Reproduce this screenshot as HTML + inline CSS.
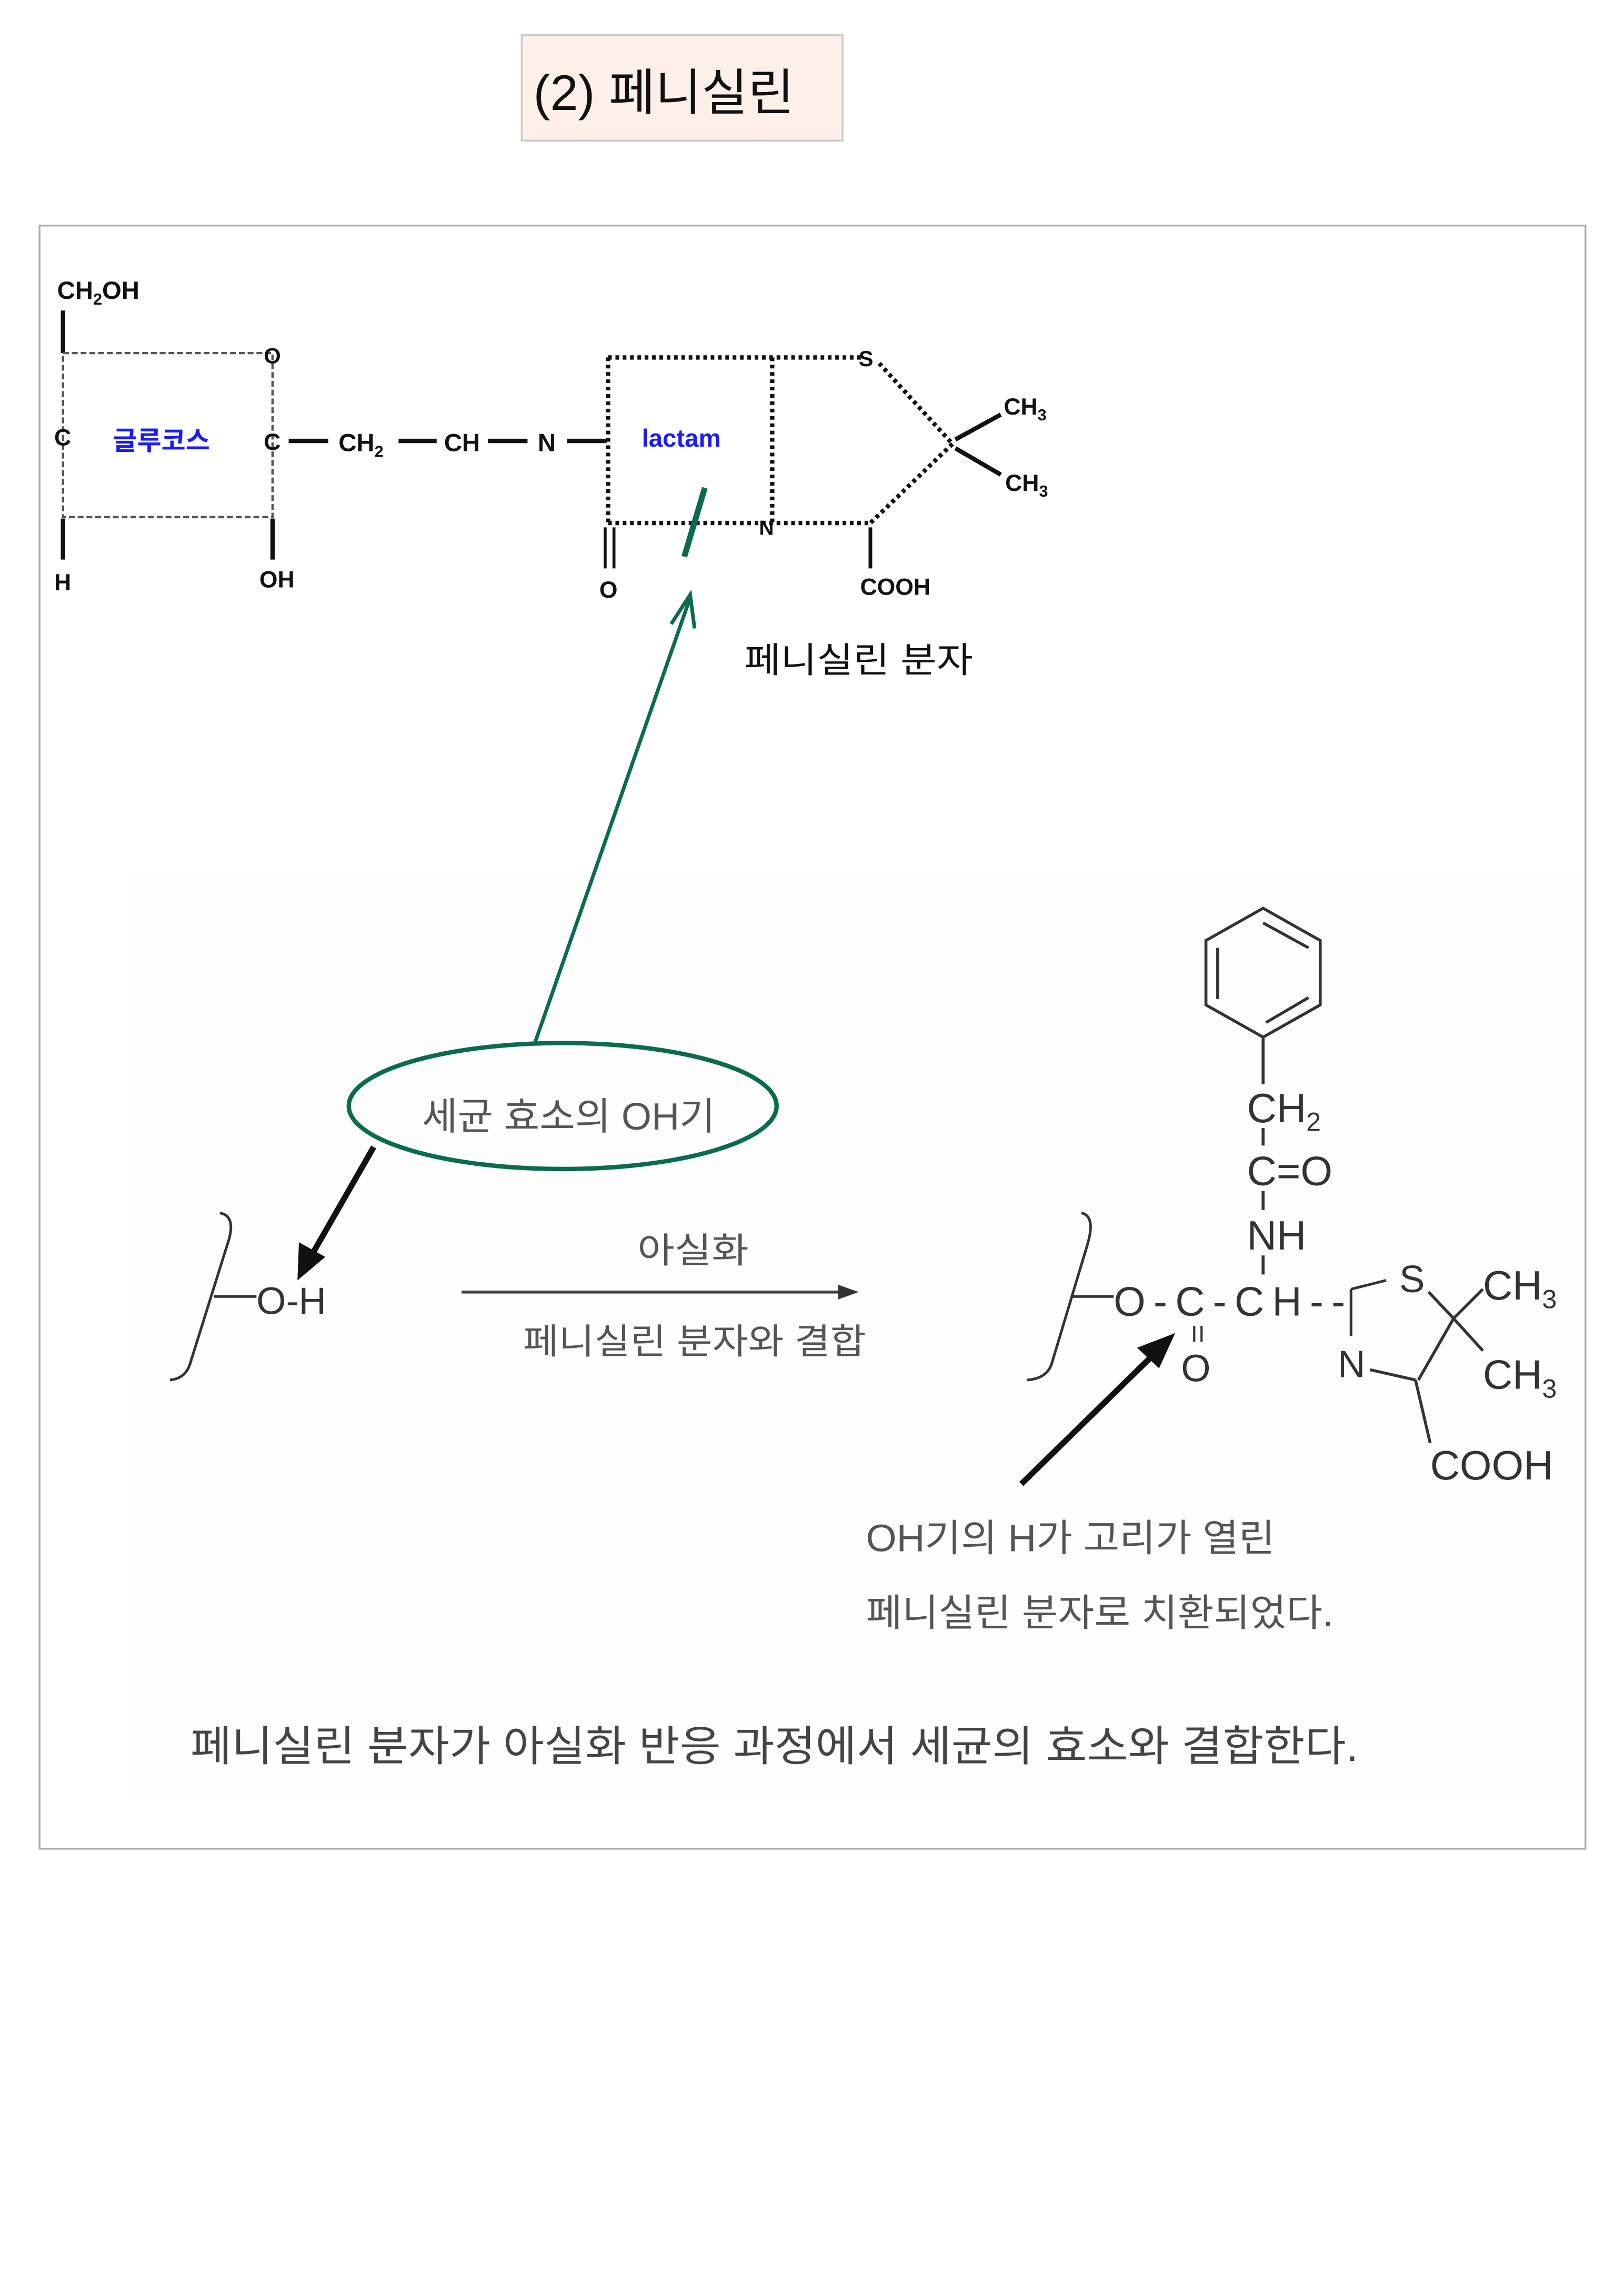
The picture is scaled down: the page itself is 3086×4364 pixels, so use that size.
<!DOCTYPE html>
<html><head><meta charset="utf-8"><style>
html,body{margin:0;padding:0;background:#fff;}
svg{display:block;}
text{font-family:"Liberation Sans","Noto Sans CJK KR",sans-serif;}
</style></head><body>
<svg width="3086" height="4364" viewBox="0 0 1108.3 1567.3" xmlns="http://www.w3.org/2000/svg">
<rect x="0" y="0" width="1110" height="1570" fill="#fff"/>
<!-- title -->
<rect x="356" y="24" width="219" height="72" fill="#fdf0e8" stroke="#c8c8c8" stroke-width="1.2"/>
<text x="364" y="75" font-size="34" fill="#111" textLength="178" lengthAdjust="spacingAndGlyphs">(2) 페니실린</text>
<!-- frame -->
<rect x="27" y="154" width="1055" height="1108" fill="#fff" stroke="#aaa" stroke-width="1.2"/>
<rect x="88" y="598" width="993" height="628" fill="#fdfdfd"/>

<!-- glucose -->
<text x="39" y="204" font-size="17" font-weight="bold" fill="#111">CH<tspan font-size="11" dy="4">2</tspan><tspan dy="-4">OH</tspan></text>
<line x1="43" y1="212" x2="43" y2="241" stroke="#111" stroke-width="3"/>
<rect x="43" y="241" width="143" height="112" fill="none" stroke="#555" stroke-width="1.6" stroke-dasharray="4,2"/>
<text x="180" y="248" font-size="15" font-weight="bold" fill="#111">O</text>
<text x="37" y="304" font-size="16" font-weight="bold" fill="#111">C</text>
<text x="180" y="307" font-size="16" font-weight="bold" fill="#111">C</text>
<text x="77" y="307" font-size="18" font-weight="bold" fill="#1a1aff">글루코스</text>
<line x1="43" y1="354" x2="43" y2="382" stroke="#111" stroke-width="3"/>
<line x1="186" y1="354" x2="186" y2="382" stroke="#111" stroke-width="3"/>
<text x="37" y="403" font-size="16" font-weight="bold" fill="#111">H</text>
<text x="177" y="401" font-size="16" font-weight="bold" fill="#111">OH</text>
<!-- chain -->
<line x1="197" y1="301" x2="224" y2="301" stroke="#111" stroke-width="3"/>
<text x="231" y="308" font-size="17" font-weight="bold" fill="#111">CH<tspan font-size="11" dy="4">2</tspan></text>
<line x1="272" y1="301" x2="298" y2="301" stroke="#111" stroke-width="3"/>
<text x="303" y="308" font-size="17" font-weight="bold" fill="#111">CH</text>
<line x1="333" y1="301" x2="360" y2="301" stroke="#111" stroke-width="3"/>
<text x="367" y="308" font-size="17" font-weight="bold" fill="#111">N</text>
<line x1="387" y1="301" x2="414" y2="301" stroke="#111" stroke-width="3"/>
<!-- lactam -->
<g stroke="#111" stroke-width="3" stroke-dasharray="2.5,2.5" fill="none">
<line x1="415" y1="244" x2="415" y2="357"/>
<line x1="415" y1="244" x2="588" y2="244"/>
<line x1="527" y1="244" x2="527" y2="357"/>
<line x1="415" y1="357" x2="594" y2="357"/>
<line x1="600" y1="248" x2="650" y2="303"/>
<line x1="650" y1="303" x2="594" y2="357"/>
</g>
<text x="586" y="250" font-size="15" font-weight="bold" fill="#111">S</text>
<text x="518" y="365" font-size="14" font-weight="bold" fill="#111">N</text>
<text x="438" y="305" font-size="17" font-weight="bold" fill="#1a1aff">lactam</text>
<line x1="413" y1="360" x2="413" y2="388" stroke="#111" stroke-width="2"/>
<line x1="419" y1="360" x2="419" y2="388" stroke="#111" stroke-width="2"/>
<text x="409" y="408" font-size="16" font-weight="bold" fill="#111">O</text>
<line x1="594" y1="360" x2="594" y2="388" stroke="#111" stroke-width="2.5"/>
<text x="587" y="406" font-size="16" font-weight="bold" fill="#111">COOH</text>
<line x1="652" y1="300" x2="683" y2="283" stroke="#111" stroke-width="3"/>
<line x1="652" y1="306" x2="683" y2="324" stroke="#111" stroke-width="3"/>
<text x="685" y="283" font-size="16" font-weight="bold" fill="#111">CH<tspan font-size="11" dy="4">3</tspan></text>
<text x="686" y="335" font-size="16" font-weight="bold" fill="#111">CH<tspan font-size="11" dy="4">3</tspan></text>
<!-- green slash and arrow -->
<line x1="481" y1="333" x2="467" y2="380" stroke="#0a6b50" stroke-width="4"/>
<text x="508" y="459" font-size="24" fill="#111" textLength="156" lengthAdjust="spacingAndGlyphs">페니실린 분자</text>
<line x1="365" y1="712" x2="471" y2="408" stroke="#0a6b50" stroke-width="2.5"/>
<polyline points="458,426 471,406 474,429" fill="none" stroke="#0a6b50" stroke-width="2.5"/>
<ellipse cx="384" cy="755" rx="146" ry="43" fill="none" stroke="#0a6b50" stroke-width="3"/>
<text x="288" y="771" font-size="26" fill="#555" textLength="200" lengthAdjust="spacingAndGlyphs">세균 효소의 OH기</text>
<!-- left molecule -->
<line x1="255" y1="783" x2="212" y2="858" stroke="#111" stroke-width="4"/>
<polygon points="203,874 204,848 222,858" fill="#111"/>
<path d="M150,828 Q162,830 155,850 L130,930 Q127,941 116,942" fill="none" stroke="#333" stroke-width="1.8"/>
<line x1="146" y1="885" x2="175" y2="885" stroke="#333" stroke-width="1.8"/>
<text x="175" y="897" font-size="26" fill="#333">O-H</text>
<text x="435" y="862" font-size="24" fill="#555" textLength="76" lengthAdjust="spacingAndGlyphs">아실화</text>
<line x1="315" y1="882" x2="578" y2="882" stroke="#444" stroke-width="2"/>
<polygon points="586,882 572,877 572,887" fill="#333"/>
<text x="357" y="924" font-size="24" fill="#555" textLength="234" lengthAdjust="spacingAndGlyphs">페니실린 분자와 결합</text>
<!-- right molecule -->
<polygon points="862,620 901,642 901,686 862,708 823,686 823,642" fill="none" stroke="#333" stroke-width="2"/>
<line x1="862" y1="630" x2="893" y2="647" stroke="#333" stroke-width="2"/>
<line x1="831" y1="647" x2="831" y2="682" stroke="#333" stroke-width="2"/>
<line x1="864" y1="698" x2="893" y2="681" stroke="#333" stroke-width="2"/>
<line x1="862" y1="708" x2="862" y2="740" stroke="#333" stroke-width="2"/>
<text x="851" y="766" font-size="28" fill="#333">CH<tspan font-size="18" dy="6">2</tspan></text>
<text x="851" y="809" font-size="28" fill="#333">C=O</text>
<text x="851" y="853" font-size="28" fill="#333">NH</text>
<line x1="862" y1="770" x2="862" y2="782" stroke="#333" stroke-width="2"/>
<line x1="862" y1="813" x2="862" y2="826" stroke="#333" stroke-width="2"/>
<line x1="862" y1="857" x2="862" y2="870" stroke="#333" stroke-width="2"/>
<path d="M738,828 Q748,830 742,850 L718,930 Q715,941 701,942" fill="none" stroke="#333" stroke-width="1.8"/>
<line x1="732" y1="885" x2="760" y2="885" stroke="#333" stroke-width="1.8"/>
<text x="760" y="898" font-size="28" fill="#333" textLength="158" lengthAdjust="spacing">O-C-CH--</text>
<line x1="815" y1="905" x2="815" y2="916" stroke="#333" stroke-width="1.5"/>
<line x1="820" y1="905" x2="820" y2="916" stroke="#333" stroke-width="1.5"/>
<text x="806" y="943" font-size="26" fill="#333">O</text>
<path d="M922,880 L946,874 M922,880 L922,912" stroke="#333" stroke-width="1.8" fill="none"/>
<text x="955" y="882" font-size="26" fill="#333">S</text>
<line x1="975" y1="882" x2="992" y2="900" stroke="#333" stroke-width="2"/>
<line x1="992" y1="900" x2="1012" y2="880" stroke="#333" stroke-width="2"/>
<line x1="992" y1="900" x2="1012" y2="922" stroke="#333" stroke-width="2"/>
<line x1="992" y1="900" x2="968" y2="942" stroke="#333" stroke-width="2"/>
<text x="1012" y="887" font-size="28" fill="#333">CH<tspan font-size="18" dy="6">3</tspan></text>
<text x="1012" y="948" font-size="28" fill="#333">CH<tspan font-size="18" dy="6">3</tspan></text>
<text x="913" y="940" font-size="26" fill="#333">N</text>
<line x1="935" y1="935" x2="966" y2="942" stroke="#333" stroke-width="2"/>
<line x1="966" y1="942" x2="976" y2="985" stroke="#333" stroke-width="2"/>
<text x="976" y="1010" font-size="28" fill="#333">COOH</text>
<line x1="697" y1="1013" x2="790" y2="922" stroke="#111" stroke-width="4"/>
<polygon points="802,910 776,920 791,934" fill="#111"/>
<text x="591" y="1059" font-size="26" fill="#555" textLength="279" lengthAdjust="spacingAndGlyphs">OH기의 H가 고리가 열린</text>
<text x="591" y="1110" font-size="26" fill="#555" textLength="319" lengthAdjust="spacingAndGlyphs">페니실린 분자로 치환되었다.</text>
<text x="130" y="1202" font-size="29" fill="#444" textLength="797" lengthAdjust="spacingAndGlyphs">페니실린 분자가 아실화 반응 과정에서 세균의 효소와 결합한다.</text>
</svg>
</body></html>
